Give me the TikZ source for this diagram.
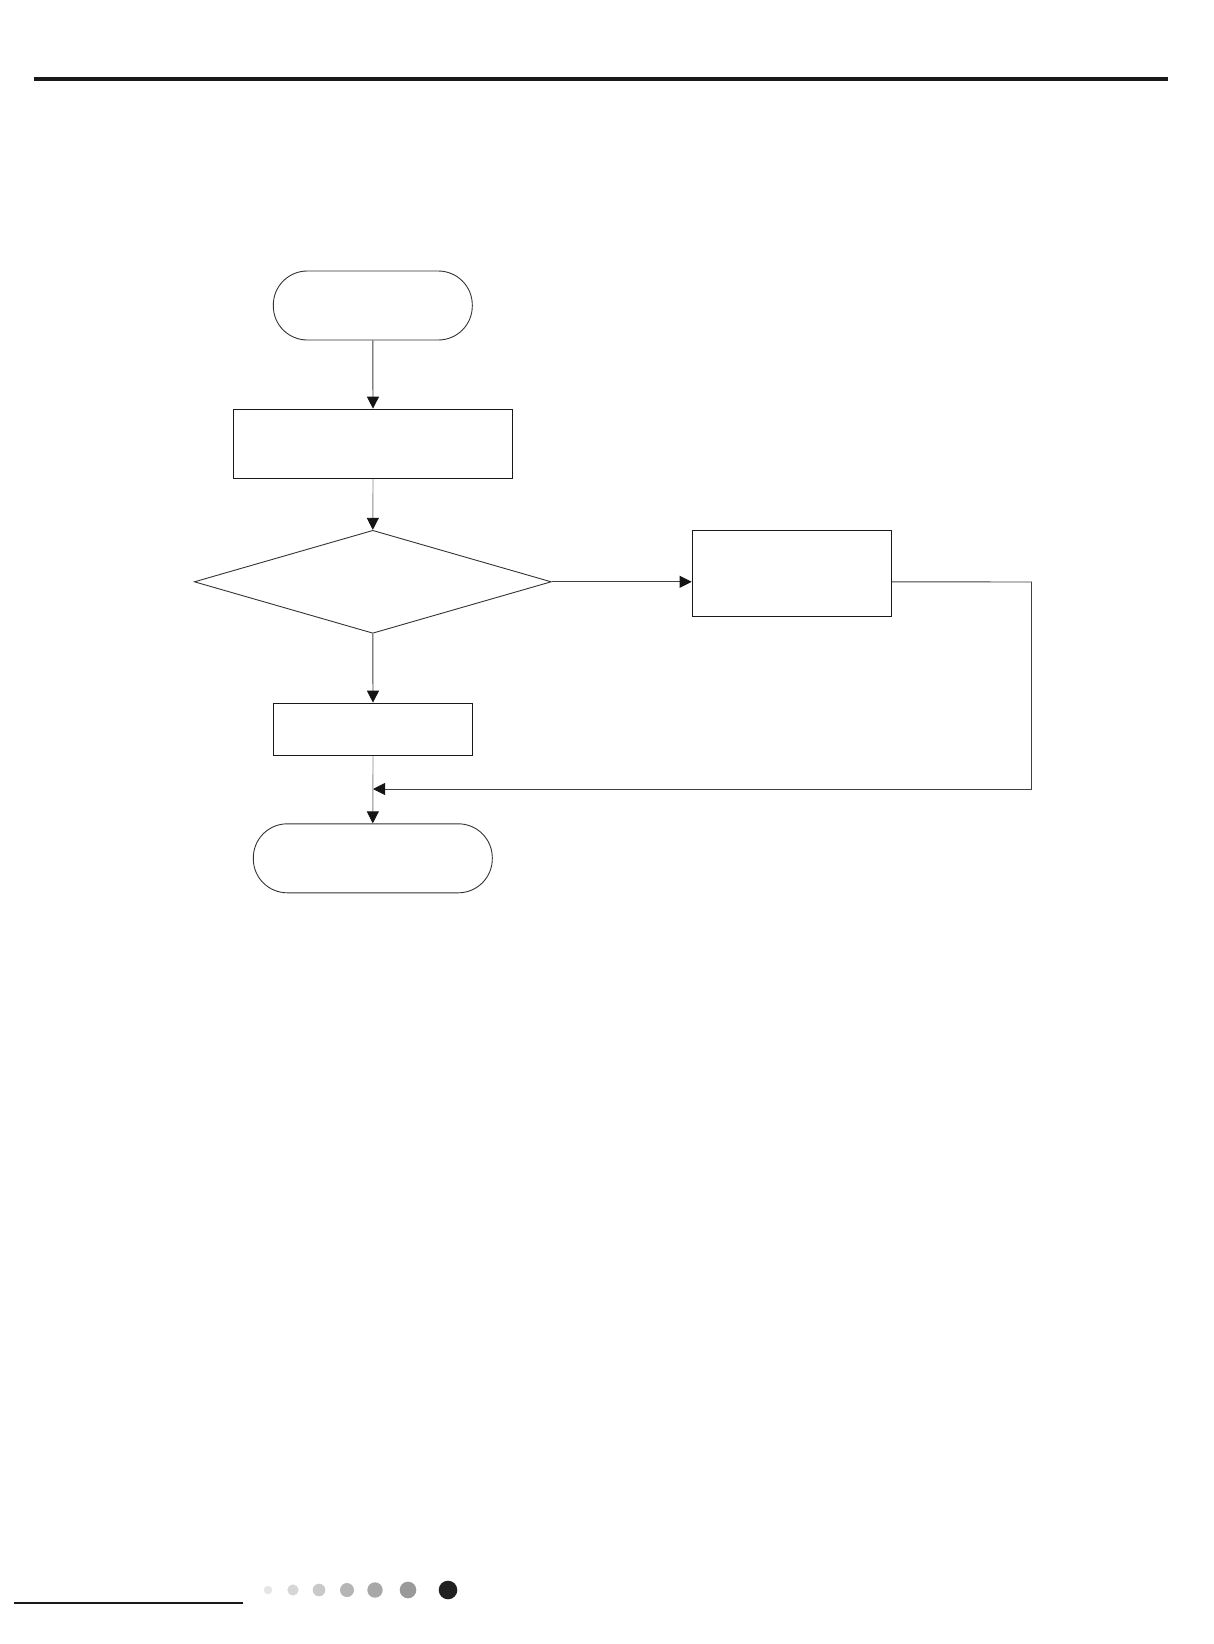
\documentclass[tikz,border=0pt]{standalone}
\usetikzlibrary{shapes.geometric,arrows.meta}

\tikzset{
  terminal/.style={draw=black!80, line width=0.9pt, rectangle, rounded corners=34pt,
    minimum width=199pt, minimum height=69pt, inner sep=0pt},
  procbox/.style={draw=black!90, line width=1.3pt, rectangle, inner sep=0pt},
  decision/.style={draw=black!80, line width=0.9pt, diamond, inner sep=0pt,
    minimum width=357pt, minimum height=103pt},
  flow/.style={draw=black!75, line width=0.9pt, -{Triangle[length=12pt,width=12pt,color=black!92]}},
  plainflow/.style={draw=black!75, line width=0.9pt}
}

\begin{document}
\begin{tikzpicture}[x=1pt,y=-1pt]
    \useasboundingbox (0,0) rectangle (1213,1644);
    % page header and footer
    \draw[line width=4pt, black!90] (34,79) -- (1168,79);
    \draw[line width=2pt, black!90] (14,1603) -- (243,1603);
    \foreach \px/\rad/\shade in {268/4.3/10, 293/5.6/16, 319/6.3/21, 347/7/29, 375/7.7/34, 408/8.3/40, 448/9.3/87}
        \fill[black!\shade] (\px,1590) circle (\rad);

    % flowchart nodes
    \node[terminal] (start) at (372.8,305.5) {};
    \node[procbox, minimum width=279pt, minimum height=69pt] (init) at (373,443.8) {};
    \node[decision] (check) at (372.8,581.8) {};
    \node[procbox, minimum width=199pt, minimum height=86pt] (adjust) at (791.8,573.3) {};
    \node[procbox, minimum width=199pt, minimum height=52pt] (run) at (373,729.3) {};
    \node[terminal, minimum width=239pt, rounded corners=34pt] (finish) at (372.8,858.3) {};

    \coordinate (loopR) at (1031.5,582);
    \coordinate (merge) at (373,789);

    % connectors
    \draw[flow] (start.south) -- (init.north);
    \draw[flow, black!45] (init.south) -- (check.north);
    \draw[flow] (check.south) -- (run.north);
    \draw[flow] (check.east) -- (check.east -| adjust.west);
    \draw[plainflow] (check.east -| adjust.east) -- (loopR) -- (loopR |- merge);
    \draw[flow] (loopR |- merge) -- (merge);
    \draw[flow, black!45] (run.south) -- (finish.north);
\end{tikzpicture}
\end{document}
